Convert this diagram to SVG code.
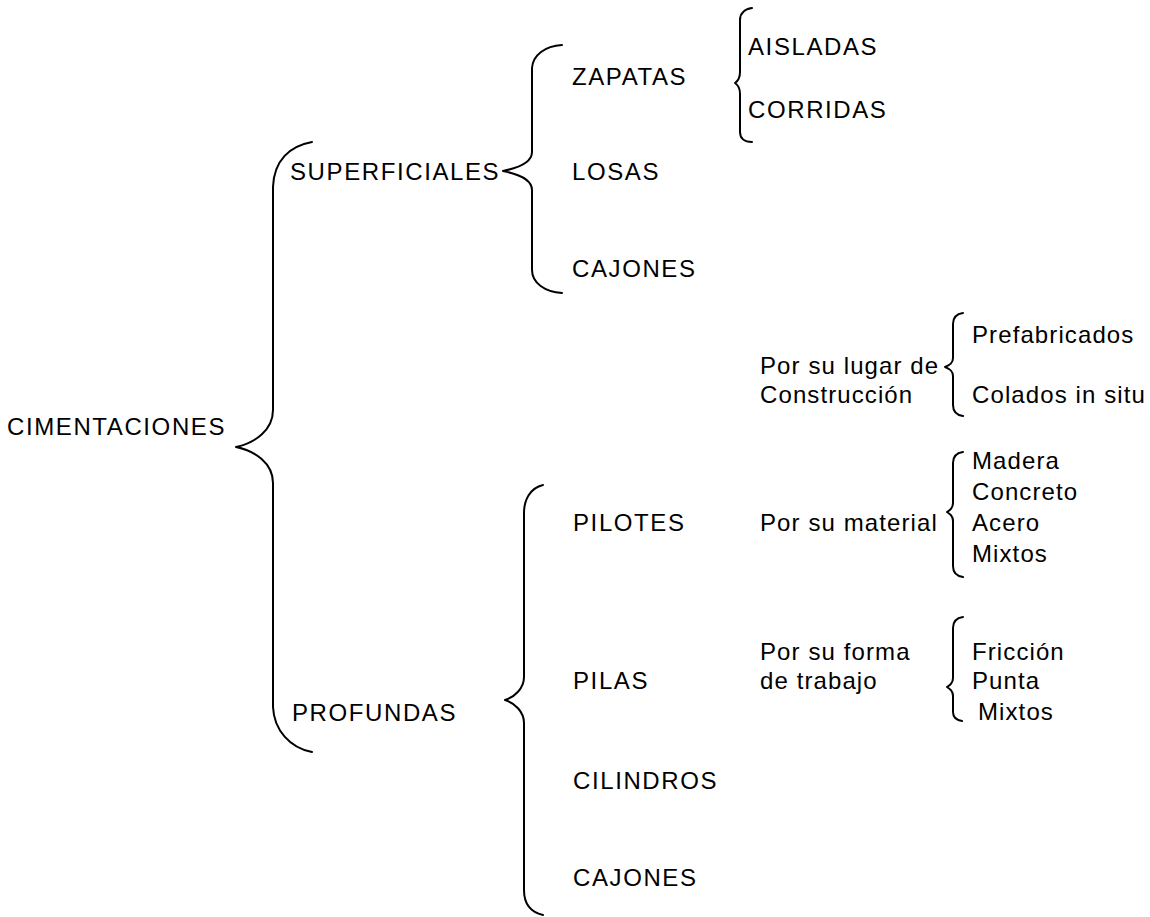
<svg xmlns="http://www.w3.org/2000/svg" width="1150" height="917" viewBox="0 0 1150 917">
<style>
text{font-family:"Liberation Sans",Arial,sans-serif;font-size:24px;fill:#000;letter-spacing:1.1px}
text.c{letter-spacing:1.6px}
.brace{fill:none;stroke:#000;stroke-width:2;stroke-linecap:round;stroke-linejoin:round}
</style>
<rect width="1150" height="917" fill="#fff"/>
<g id="connectors">
<path class="brace" d="M312,142 C290,146 274,160 273,187 L273,410 C273,430 255,443 236,447 C255,451 273,463 273,483 L273,707 C274,730 290,748 312,752"/>
<path class="brace" d="M562,45 C545,46 533,55 532,68 L532,152 C532,162 518,168 503,171 C518,174 532,180 532,190 L532,270 C532,283 545,292 562,293"/>
<path class="brace" d="M752,8 C744,9 740,14 740,20 L740,72 C740,78 738,81 735,83 C738,85 740,88 740,94 L740,132 C740,138 744,142 752,142"/>
<path class="brace" d="M963,313 C956,314 953,318 953,324 L953,358 C953,363 950,365 945,367 C950,369 953,371 953,376 L953,405 C953,411 956,415 963,416"/>
<path class="brace" d="M963,452 C956,453 953,457 953,463 L953,503 C953,508 950,510 947,512 C950,514 953,516 953,521 L953,566 C953,572 956,576 963,577"/>
<path class="brace" d="M963,617 C956,618 953,622 953,628 L953,678 C953,683 950,685 947,687 C950,689 953,691 953,696 L953,712 C953,717 956,720 962,721"/>
<path class="brace" d="M543,485 C530,488 524,500 524,513 L524,677 C524,688 515,697 505,700 C515,703 524,712 524,723 L524,890 C524,903 530,912 543,915"/>
</g>
<g id="cimentaciones"><text class="c" x="7" y="435">CIMENTACIONES</text></g>
<g id="superficiales"><text class="c" x="290" y="180">SUPERFICIALES</text></g>
<g id="profundas"><text class="c" x="292" y="721">PROFUNDAS</text></g>
<g id="zapatas"><text class="c" x="572" y="85">ZAPATAS</text></g>
<g id="losas"><text class="c" x="572" y="180">LOSAS</text></g>
<g id="cajones-sup"><text class="c" x="572" y="277">CAJONES</text></g>
<g id="aisladas"><text class="c" x="748" y="55">AISLADAS</text></g>
<g id="corridas"><text class="c" x="748" y="118">CORRIDAS</text></g>
<g id="pilotes"><text class="c" x="573" y="531">PILOTES</text></g>
<g id="pilas"><text class="c" x="573" y="689">PILAS</text></g>
<g id="cilindros"><text class="c" x="573" y="789">CILINDROS</text></g>
<g id="cajones-prof"><text class="c" x="573" y="886">CAJONES</text></g>
<g id="lugar"><text x="760" y="374">Por su lugar de</text><text x="760" y="403">Construcción</text></g>
<g id="prefabricados"><text x="972" y="343">Prefabricados</text></g>
<g id="colados"><text x="972" y="403">Colados in situ</text></g>
<g id="material"><text x="760" y="531">Por su material</text></g>
<g id="madera"><text x="972" y="469">Madera</text></g>
<g id="concreto"><text x="972" y="500">Concreto</text></g>
<g id="acero"><text x="972" y="531">Acero</text></g>
<g id="mixtos-mat"><text x="972" y="562">Mixtos</text></g>
<g id="forma"><text x="760" y="660">Por su forma</text><text x="760" y="689">de trabajo</text></g>
<g id="friccion"><text x="972" y="660">Fricción</text></g>
<g id="punta"><text x="972" y="689">Punta</text></g>
<g id="mixtos-forma"><text x="978" y="720">Mixtos</text></g>
</svg>
